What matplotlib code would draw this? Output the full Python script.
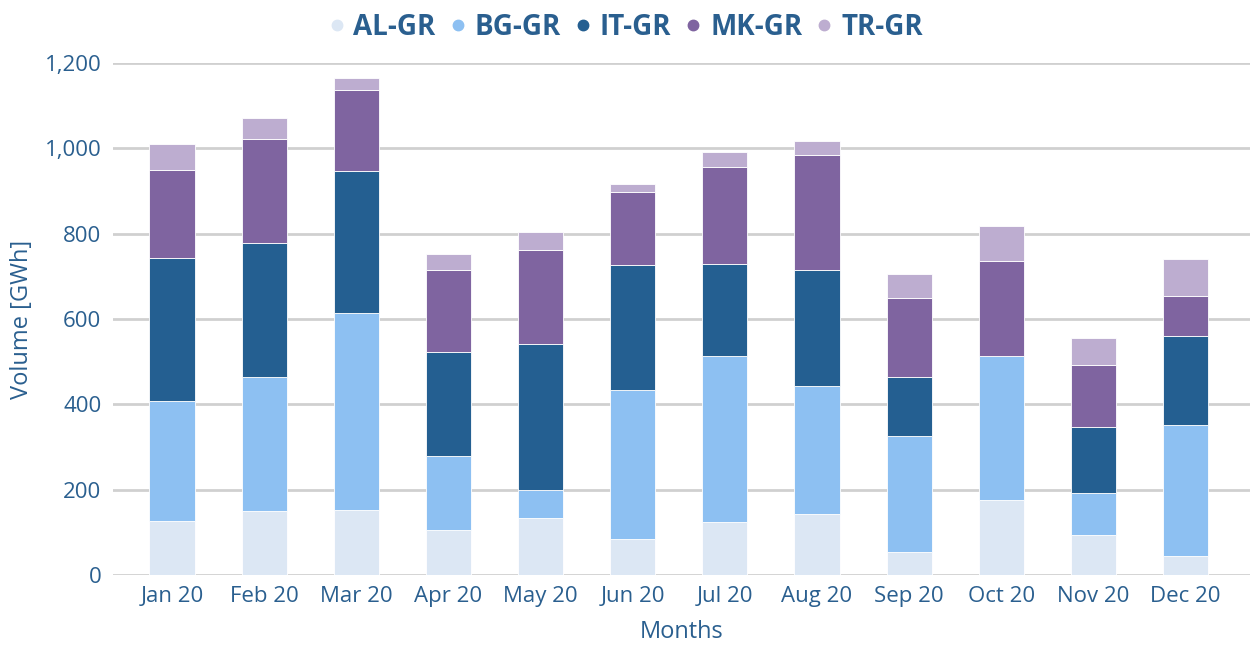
import matplotlib.pyplot as plt
import numpy as np
from matplotlib.lines import Line2D
from matplotlib.ticker import FuncFormatter

MONTHS = ['Jan 20', 'Feb 20', 'Mar 20', 'Apr 20', 'May 20', 'Jun 20',
          'Jul 20', 'Aug 20', 'Sep 20', 'Oct 20', 'Nov 20', 'Dec 20']
SERIES = ['AL-GR', 'BG-GR', 'IT-GR', 'MK-GR', 'TR-GR']
AL_GR = [127, 151, 153, 106, 133, 84, 124, 142, 53, 175, 93, 44]
BG_GR = [280, 313, 462, 173, 67, 350, 389, 300, 272, 339, 99, 307]
IT_GR = [337, 315, 332, 243, 341, 293, 215, 272, 140, 0, 155, 209]
MK_GR = [205, 243, 190, 192, 221, 170, 228, 271, 185, 223, 145, 94]
TR_GR = [61, 48, 28, 38, 43, 19, 35, 32, 56, 80, 64, 86]
Y_TICKS = [0, 200, 400, 600, 800, 1000, 1200]

COLORS = ['#DCE7F4', '#8DC0F2', '#245F91', '#7F64A0', '#BDADD0']
TEXT_COLOR = '#2A5F8F'
FONT = 'Open Sans'
TICK_FONTSIZE = 16
LABEL_FONTSIZE = 17

plt.rcParams['font.family'] = [FONT, 'DejaVu Sans']

fig = plt.figure(figsize=(12.5, 6.46), dpi=100)
ax = fig.add_axes([0.09, 0.110, 0.91, 0.7925])

x = np.arange(len(MONTHS))
bottom = np.zeros(len(MONTHS))
for name, vals, col in zip(SERIES, [AL_GR, BG_GR, IT_GR, MK_GR, TR_GR], COLORS):
    ax.bar(x, vals, width=0.49, bottom=bottom, color=col, zorder=3,
           edgecolor='white', linewidth=0.6)
    bottom += np.array(vals)

ax.set_ylim(0, 1200)
ax.set_xlim(-0.646, 11.70)
ax.set_yticks(Y_TICKS)
ax.yaxis.set_major_formatter(FuncFormatter(lambda v, p: '{:,.0f}'.format(v)))
ax.set_xticks(x)
ax.set_xticklabels(MONTHS)
ax.grid(axis='y', color='#D0D0D0', linewidth=2, zorder=0)
for s in ax.spines.values():
    s.set_visible(False)
ax.tick_params(length=0, labelsize=TICK_FONTSIZE, labelcolor=TEXT_COLOR)
ax.tick_params(axis='y', pad=8)
ax.tick_params(axis='x', pad=8)
ax.set_xlabel('Months', fontsize=LABEL_FONTSIZE, color=TEXT_COLOR, labelpad=9)
ax.set_ylabel('Volume [GWh]', fontsize=LABEL_FONTSIZE, color=TEXT_COLOR,
              labelpad=8)

handles = [Line2D([], [], marker='o', linestyle='none', markersize=7.5,
                  markerfacecolor=c, markeredgecolor=c) for c in COLORS]
leg = fig.legend(handles, SERIES, loc='center', ncol=5,
                 bbox_to_anchor=(0.501, 0.958), frameon=False,
                 handlelength=0.5, handletextpad=0.35, columnspacing=0.55,
                 prop={'family': FONT, 'weight': 'bold', 'size': 20})
for t in leg.get_texts():
    t.set_color(TEXT_COLOR)

fig.savefig('out.png', dpi=100)
